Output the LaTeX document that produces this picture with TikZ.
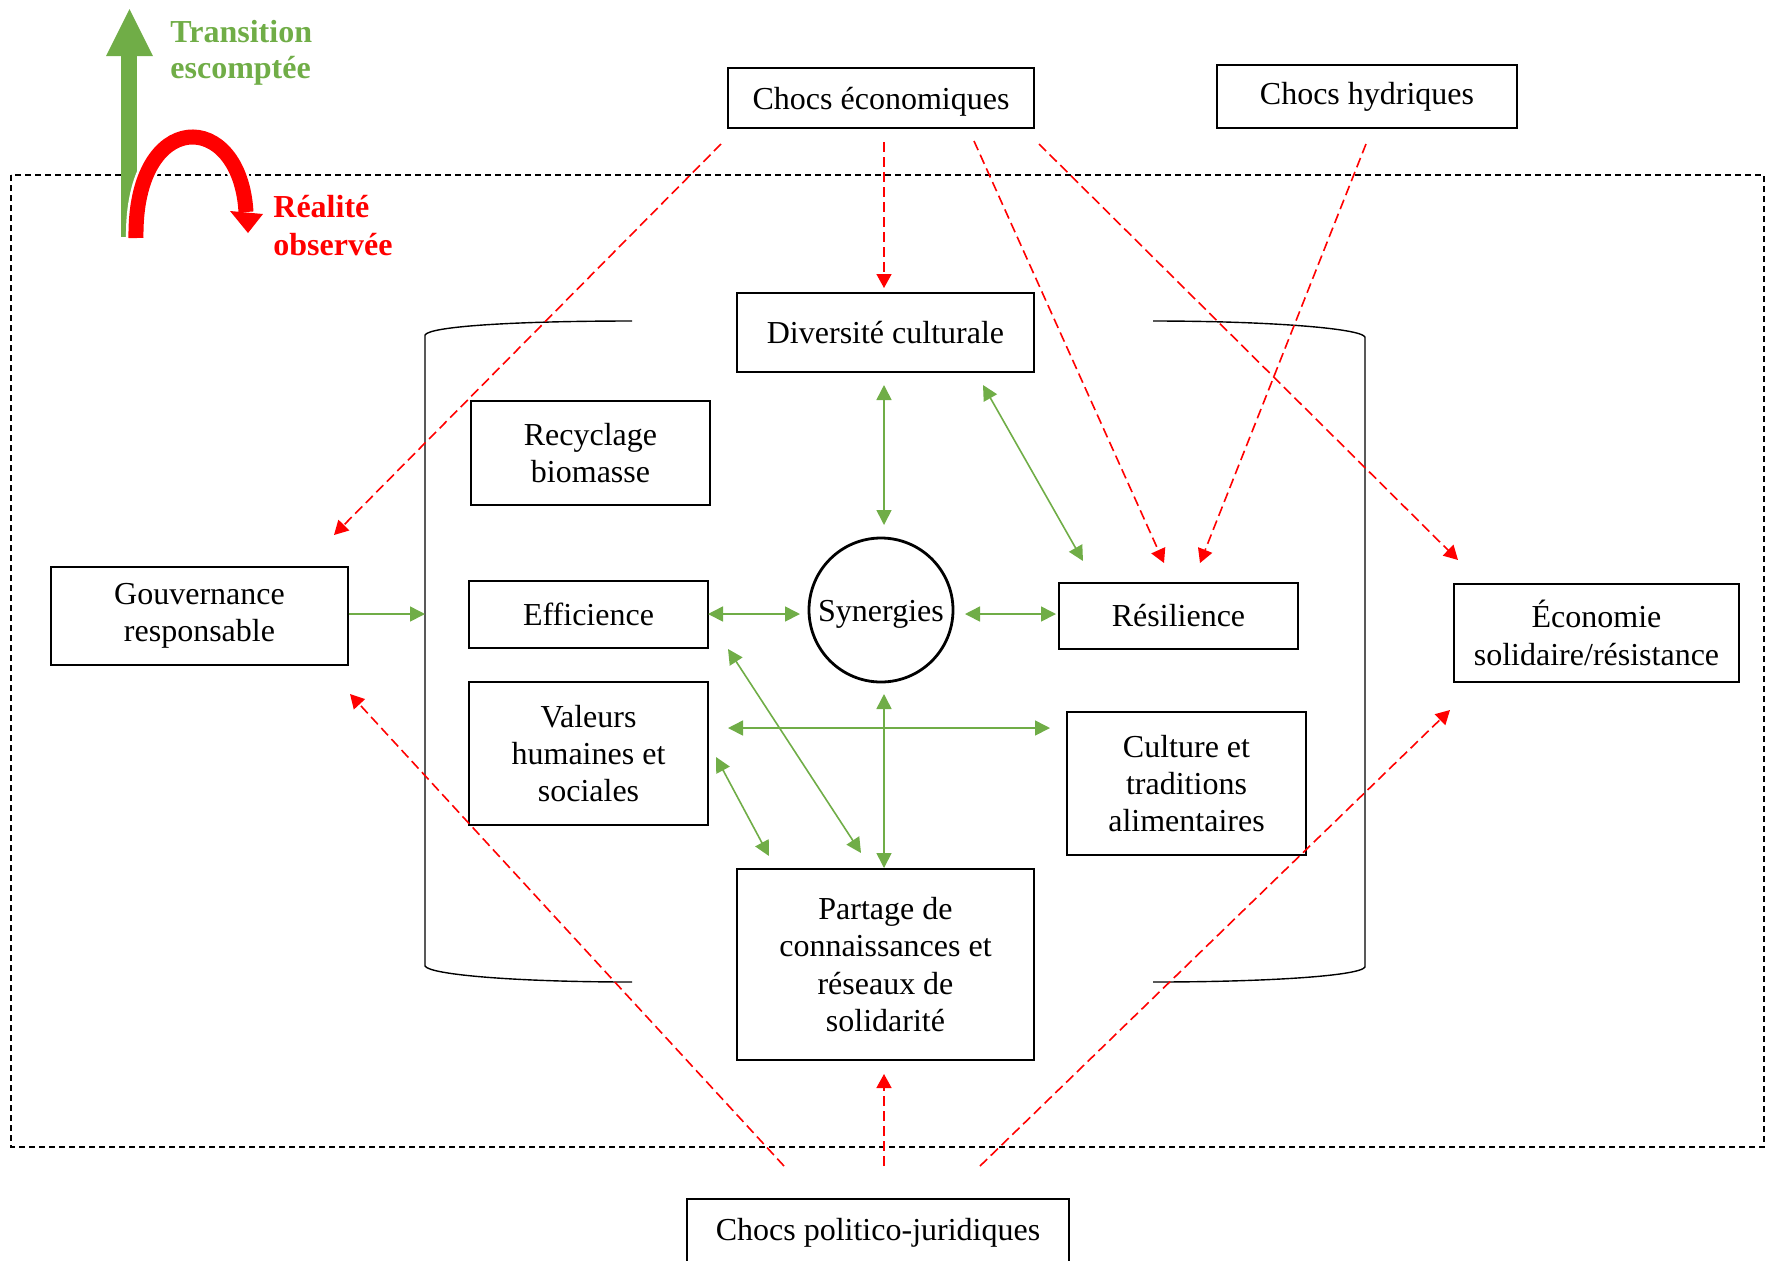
\documentclass[tikz,border=0pt]{standalone}
\usepackage{fontspec}
\setmainfont{Liberation Serif}
\usetikzlibrary{arrows.meta}
\definecolor{leaf}{HTML}{70AD47}
\definecolor{alarm}{HTML}{FF0000}

\begin{document}
\begin{tikzpicture}[x=0.5pt,y=-0.5pt,
  box/.style={draw, line width=0.7pt, align=center, inner sep=2pt,
    font=\fontsize{16}{18.6}\selectfont},
  link/.style={leaf, line width=0.8pt, {Triangle[length=7.5pt,width=7.5pt]}-{Triangle[length=7.5pt,width=7.5pt]}},
  feed/.style={leaf, line width=0.8pt, -{Triangle[length=7.5pt,width=7.5pt]}},
  shock/.style={alarm, line width=0.8pt, dash pattern=on 5pt off 2.5pt,
    -{Triangle[length=7pt,width=7.5pt]}},
  tag/.style={font=\fontsize{16}{18}\selectfont\bfseries, align=left, inner sep=0pt, anchor=north west}]

\useasboundingbox (0,0) rectangle (1767,1260);
\clip (0,0) rectangle (1767,1260);

% system boundary
\draw[line width=0.6pt, dash pattern=on 3pt off 2pt] (11,175) rectangle (1764,1147);

% expected transition vs observed reality
\fill[leaf] (121,237) rectangle (137,56);
\fill[leaf] (106,56) -- (153,56) -- (129.5,9) -- cycle;
\draw[white, line width=10pt] (136,238) .. controls (134,108) and (240,108) .. (246,212);
\draw[alarm, line width=7.5pt] (136,238) .. controls (134,108) and (240,108) .. (246,212);
\fill[alarm] (230,211) -- (263,214) -- (248,233) -- cycle;
\node[tag, text=leaf] (trans) at (170,20) {Transition\\escomptée};
\node[tag, text=alarm, font=\fontsize{16}{19}\selectfont\bfseries] (real) at (273,195) {Réalité\\observée};

% brackets around the core
\draw[line width=0.7pt] (632,321) .. controls (520,321) and (430,326) .. (425,335)
  -- (425,966) .. controls (430,975) and (520,982) .. (632,982);
\draw[line width=0.7pt] (1153,321) .. controls (1265,321) and (1360,328) .. (1365,337)
  -- (1365,967) .. controls (1360,976) and (1265,982) .. (1153,982);

% boxes
\node[box, minimum width=153pt, minimum height=30pt, text height=15pt, text depth=3.5pt] (chocE) at (881,98) {Chocs économiques};
\node[box, minimum width=150pt, minimum height=31.5pt] (chocH) at (1367,96.5) {Chocs hydriques};
\node[box, minimum width=148.5pt, minimum height=39.5pt] (div) at (885.5,332.5) {Diversité culturale};
\node[box, minimum width=119.5pt, minimum height=52pt] (recy) at (590.5,453) {Recyclage\\biomasse};
\node[box, minimum width=148.5pt, minimum height=49pt] (gouv) at (199.5,616) {Gouvernance\\responsable};
\node[box, minimum width=119.5pt, minimum height=33.5pt] (eff) at (588.5,614.5) {Efficience};
\node[draw, circle, line width=1.4pt, minimum size=72pt, inner sep=0pt,
  text height=15pt, text depth=3.5pt,
  font=\fontsize{16}{18.6}\selectfont] (syn) at (881,610) {Synergies};
\node[box, minimum width=119.5pt, minimum height=33pt] (res) at (1178.5,616) {Résilience};
\node[box, minimum width=142.5pt, minimum height=49pt] (eco) at (1596.5,633) {Économie\\solidaire/résistance};
\node[box, minimum width=119.5pt, minimum height=71.5pt] (val) at (588.5,753.5) {Valeurs\\humaines et\\sociales};
\node[box, minimum width=119.5pt, minimum height=71.5pt] (cult) at (1186.5,783.5) {Culture et\\traditions\\alimentaires};
\node[box, minimum width=148.5pt, minimum height=95.5pt] (part) at (885.5,964.5) {Partage de\\connaissances et\\réseaux de\\solidarité};
\node[box, minimum width=191pt, minimum height=34pt] (pol) at (878,1233) {Chocs politico-juridiques};

% connector ends
\coordinate (bracketL) at (425,614);
\coordinate (effR) at (708,614);   \coordinate (synL) at (800,614);
\coordinate (synR) at (965,614);   \coordinate (resL) at (1056,614);
\coordinate (divB) at (884,385);   \coordinate (synT) at (884,525);
\coordinate (divBR) at (983,385);  \coordinate (resT) at (1083,561);
\coordinate (synB) at (884,694);   \coordinate (partT) at (884,868);
\coordinate (valR) at (728,728);   \coordinate (cultL) at (1050,728);
\coordinate (effBR) at (728,649);  \coordinate (partTL) at (861,853);
\coordinate (valBR) at (716,757);  \coordinate (partTLL) at (769,856);

\coordinate (ce1) at (721,144);  \coordinate (gouvT) at (334,535);
\coordinate (ce2) at (884,142);  \coordinate (divT) at (884,288);
\coordinate (ce3) at (974,141);  \coordinate (resTL) at (1164,563);
\coordinate (ce4) at (1039,144); \coordinate (ecoTL) at (1458,560);
\coordinate (ch1) at (1366,144); \coordinate (resTR) at (1200,563);
\coordinate (pj1) at (784,1166); \coordinate (gouvB) at (350,694);
\coordinate (pj2) at (884,1166); \coordinate (partB) at (884,1074);
\coordinate (pj3) at (980,1166); \coordinate (ecoBL) at (1450,710);

% green interactions
\draw[feed] (gouv.east |- bracketL) -- (bracketL);
\draw[link] (effR) -- (synL);
\draw[link] (synR) -- (resL);
\draw[link] (divB) -- (synT);
\draw[link] (divBR) -- (resT);
\draw[link] (synB) -- (partT);
\draw[link] (valR) -- (cultL);
\draw[link] (effBR) -- (partTL);
\draw[link] (valBR) -- (partTLL);

% red shocks
\draw[shock] (ce1) -- (gouvT);
\draw[shock] (ce2) -- (divT);
\draw[shock] (ce3) -- (resTL);
\draw[shock] (ce4) -- (ecoTL);
\draw[shock] (ch1) -- (resTR);
\draw[shock] (pj1) -- (gouvB);
\draw[shock] (pj2) -- (partB);
\draw[shock] (pj3) -- (ecoBL);
\end{tikzpicture}
\end{document}
